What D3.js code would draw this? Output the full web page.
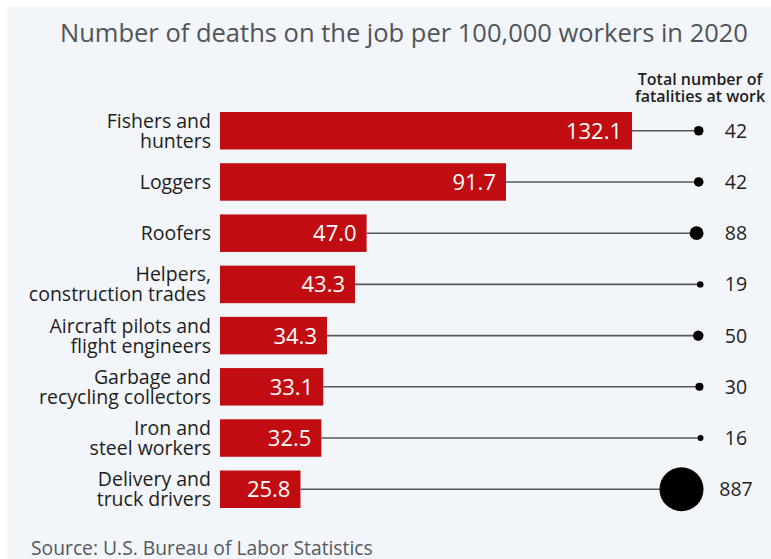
<!DOCTYPE html>
<html>
<head>
<meta charset="utf-8">
<script src="https://cdn.jsdelivr.net/npm/d3@7"></script>
<style>
  html, body { margin: 0; padding: 0; background: #ffffff; }
  svg { display: block; font-family: "Open Sans", "Noto Sans", sans-serif; }
</style>
</head>
<body>
<svg id="chart" width="771" height="559"></svg>
<script>
// Occupations, fatal injury rate per 100,000 workers, and total fatalities (2020)
const occupations = [
  ["Fishers and", "hunters"],
  ["Loggers"],
  ["Roofers"],
  ["Helpers,", "construction trades "],
  ["Aircraft pilots and", "flight engineers"],
  ["Garbage and", "recycling collectors"],
  ["Iron and", "steel workers"],
  ["Delivery and", "truck drivers"]
];
const ratePer100k = [132.1, 91.7, 47.0, 43.3, 34.3, 33.1, 32.5, 25.8];
const totalFatalities = [42, 42, 88, 19, 50, 30, 16, 887];

const titleText = "Number of deaths on the job per 100,000 workers in 2020";
const totalHeader = ["Total number of", "fatalities at work"];
const sourceText = "Source: U.S. Bureau of Labor Statistics";

const svg = d3.select("#chart");
const W = 771, H = 559;

// light panel behind the chart
svg.append("rect").attr("x", 7).attr("y", 7).attr("width", W - 7).attr("height", H - 7)
  .attr("fill", "#f2f5f9");

const idx = d3.range(ratePer100k.length);

const x = d3.scaleLinear().domain([0, d3.max(ratePer100k)]).range([220, 632]);
const y = d3.scaleBand().domain(idx).range([112, 508]).paddingInner(0.268).paddingOuter(0);
const r = d3.scaleSqrt().domain([0, d3.max(totalFatalities)]).range([0, 22]);
const dotRight = 703.5;

// title
svg.append("text").attr("x", 60).attr("y", 42)
  .attr("font-size", 25.5).attr("fill", "#505458")
  .text(titleText);

// header above the fatality totals
svg.append("text").attr("x", 700).attr("y", 85)
  .attr("text-anchor", "middle").attr("font-size", 16).attr("font-weight", 600)
  .attr("fill", "#1e1e1e")
  .selectAll("tspan").data(totalHeader).join("tspan")
  .attr("x", 700).attr("dy", (d, i) => i === 0 ? 0 : 17).text(d => d);

const rows = svg.append("g").selectAll("g").data(idx).join("g");

// connector lines from bar end to the total-fatality dot
rows.append("line")
  .attr("x1", i => x(ratePer100k[i]))
  .attr("x2", i => dotRight - r(totalFatalities[i]))
  .attr("y1", i => y(i) + y.bandwidth() / 2)
  .attr("y2", i => y(i) + y.bandwidth() / 2)
  .attr("stroke", "#555a5e").attr("stroke-width", 1.6);

// bars
rows.append("rect")
  .attr("x", x(0))
  .attr("y", i => y(i))
  .attr("width", i => x(ratePer100k[i]) - x(0))
  .attr("height", y.bandwidth())
  .attr("fill", "#c10d12");

// rate labels inside bars
rows.append("text")
  .attr("x", i => x(ratePer100k[i]) - 10)
  .attr("y", i => y(i) + y.bandwidth() / 2)
  .attr("dy", "0.36em")
  .attr("text-anchor", "end").attr("font-size", 22).attr("fill", "#ffffff")
  .text(i => ratePer100k[i].toFixed(1));

// dots sized by total fatalities
rows.append("circle")
  .attr("cx", i => dotRight - r(totalFatalities[i]))
  .attr("cy", i => y(i) + y.bandwidth() / 2)
  .attr("r", i => r(totalFatalities[i]))
  .attr("fill", "#000000");

// total fatality labels
rows.append("text")
  .attr("x", 736)
  .attr("y", i => y(i) + y.bandwidth() / 2)
  .attr("dy", "0.36em")
  .attr("text-anchor", "middle").attr("font-size", 19.5).attr("fill", "#1e1e1e")
  .text(i => totalFatalities[i]);

// occupation labels (one or two lines)
rows.append("text")
  .attr("text-anchor", "end").attr("font-size", 19.5).attr("fill", "#1e1e1e")
  .style("white-space", "pre")
  .each(function (i) {
    const lines = occupations[i];
    const cy = y(i) + y.bandwidth() / 2;
    const first = lines.length === 1 ? cy + 7 : cy - 3;
    d3.select(this).selectAll("tspan").data(lines).join("tspan")
      .attr("x", 211)
      .attr("y", (d, k) => first + k * 20)
      .text(d => d);
  });

// source note
svg.append("text").attr("x", 31).attr("y", 555)
  .attr("font-size", 19.3).attr("fill", "#555a5e")
  .text(sourceText);
</script>
</body>
</html>
